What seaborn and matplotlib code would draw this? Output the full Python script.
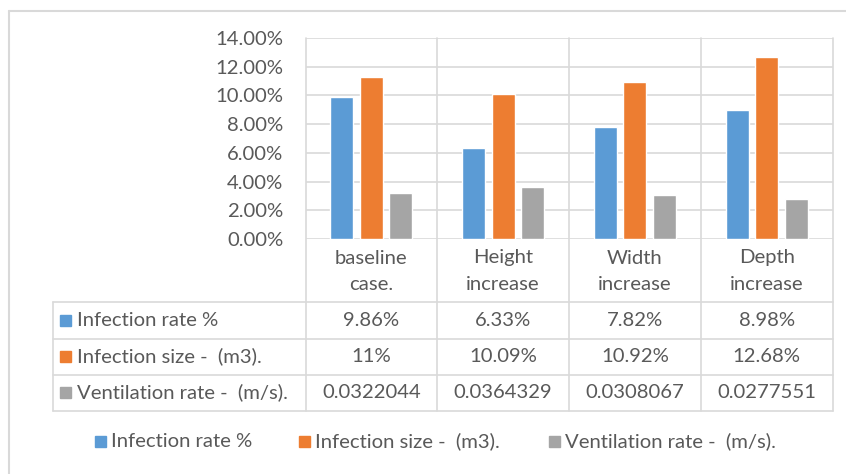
import matplotlib
matplotlib.use("Agg")
import matplotlib.pyplot as plt
from matplotlib.patches import Rectangle
from matplotlib.ticker import FuncFormatter
import seaborn as sns
import pandas as pd

# ---- data ----
categories = ["baseline\ncase.", "Height\nincrease", "Width\nincrease", "Depth\nincrease"]
series_names = ["Infection rate %", "Infection size -  (m3).", "Ventilation rate -  (m/s)."]
infection_rate = [0.0986, 0.0633, 0.0782, 0.0898]
infection_size = [0.1125, 0.1009, 0.1092, 0.1268]
ventilation_rate = [0.0322044, 0.0364329, 0.0308067, 0.0277551]
table_text = [
    ["9.86%", "6.33%", "7.82%", "8.98%"],
    ["11%", "10.09%", "10.92%", "12.68%"],
    ["0.0322044", "0.0364329", "0.0308067", "0.0277551"],
]
y_ticks = [0.0, 0.02, 0.04, 0.06, 0.08, 0.10, 0.12, 0.14]
colors = ["#5B9BD5", "#ED7D31", "#A5A5A5"]

sns.set_theme(style="white")
plt.rcParams["font.family"] = ["Lato", "DejaVu Sans"]
TXT = "#595959"
GRID = "#D9D9D9"
FS = 14.6

W, H = 846, 474
fig = plt.figure(figsize=(W / 100, H / 100), dpi=100)

# overlay in pixel coordinates for table / frame
ov = fig.add_axes([0, 0, 1, 1])
ov.set_xlim(0, W)
ov.set_ylim(H, 0)
ov.axis("off")

px_left, px_right, px_top, px_base = 305.5, 832.5, 38, 239
ax = fig.add_axes([px_left / W, 1 - px_base / H, (px_right - px_left) / W, (px_base - px_top) / H])

rows = []
for s, vals in zip(series_names, [infection_rate, infection_size, ventilation_rate]):
    for c, v in zip(categories, vals):
        rows.append({"cat": c, "series": s, "val": v})
df = pd.DataFrame(rows)

sns.barplot(data=df, x="cat", y="val", hue="series", palette=colors, width=0.672,
            gap=0.22, saturation=1, legend=False, ax=ax, zorder=3)
ax.set_ylim(0, 0.14)
ax.set_xlim(-0.5, len(categories) - 0.5)
ax.set_yticks(y_ticks)
ax.yaxis.set_major_formatter(FuncFormatter(lambda v, p: f"{v*100:.2f}%"))
ax.tick_params(axis="y", length=0, pad=16, labelsize=FS, labelcolor=TXT)
ax.tick_params(axis="x", length=0, labelbottom=False)
ax.set_xlabel("")
ax.set_ylabel("")
ax.grid(axis="y", color=GRID, linewidth=1.2, zorder=0)
for sp in ax.spines.values():
    sp.set_visible(False)
ax.patch.set_alpha(0)
for lab in ax.get_yticklabels():
    lab.set_fontfamily(["Lato", "DejaVu Sans"])

# outer chart frame
ov.plot([9, W], [11, 11], color=GRID, lw=1.5)
ov.plot([9, 9], [11, H], color=GRID, lw=1.5)

# table lines
ncat = len(categories)
colw = (px_right - px_left) / ncat
col_edges = [px_left + i * colw for i in range(ncat + 1)]
row_lines = [302, 338.5, 374.5, 410.5]
tbl_left = 52.5
for xe in col_edges:
    ov.plot([xe, xe], [px_top, row_lines[-1]], color=GRID, lw=1.2, zorder=1)
for yl in row_lines:
    ov.plot([tbl_left, px_right], [yl, yl], color=GRID, lw=1.2, zorder=1)
ov.plot([tbl_left, tbl_left], [row_lines[0], row_lines[-1]], color=GRID, lw=1.2)

# header labels
for i, c in enumerate(categories):
    cx = col_edges[i] + colw / 2
    l1, l2 = c.split("\n")
    ov.text(cx, 258, l1, ha="center", va="center", fontsize=FS, color=TXT)
    ov.text(cx, 285, l2, ha="center", va="center", fontsize=FS, color=TXT)

# rows
for r, (name, col, vals) in enumerate(zip(series_names, colors, table_text)):
    cy = (row_lines[r] + row_lines[r + 1]) / 2
    ov.add_patch(Rectangle((60, cy - 5.5), 11, 11, color=col))
    ov.text(77, cy, name, ha="left", va="center", fontsize=FS, color=TXT)
    for i, v in enumerate(vals):
        cx = col_edges[i] + colw / 2
        ov.text(cx, cy, v, ha="center", va="center", fontsize=FS, color=TXT)

# legend
leg_x = [95, 299, 549]
for name, col, lx in zip(series_names, colors, leg_x):
    ov.add_patch(Rectangle((lx, 436), 11, 11, color=col))
    ov.text(lx + 16, 441.5, name, ha="left", va="center", fontsize=FS, color=TXT)

fig.savefig("out.png", dpi=100)
